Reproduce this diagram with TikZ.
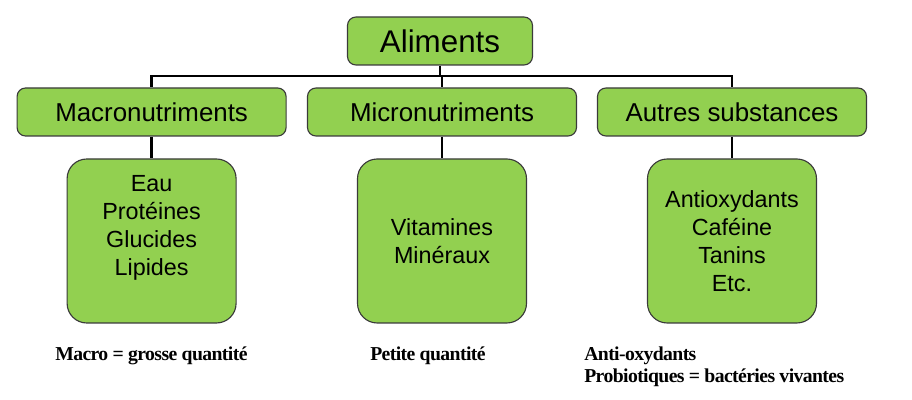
\documentclass[tikz,border=0pt]{standalone}
\usepackage{fontspec}
\setmainfont{Liberation Sans}
\newfontfamily\notefont{Liberation Serif}[LetterSpace=-3]
\usepackage{tikz}
\usetikzlibrary{positioning,calc}
\definecolor{FoodGreen}{HTML}{92D050}
\definecolor{FoodEdge}{HTML}{3A3A3A}

\begin{document}
\begin{tikzpicture}[
  box/.style={draw=FoodEdge, line width=0.8pt, fill=FoodGreen, rounded corners=6pt, align=center, inner sep=0pt},
  wire/.style={line width=1.8pt, black},
  note/.style={font=\notefont\bfseries\fontsize{14}{16}\selectfont, inner sep=0pt, anchor=base west}]
\useasboundingbox (0,0) rectangle (22.8,-10);
\node[box, minimum width=4.625cm, minimum height=1.2cm, font=\fontsize{22.3}{27}\selectfont] (alim) at (11.0,-1.025) {Aliments};
\coordinate (bar) at (0,-1.9);
\foreach \name/\label/\x in {macro/Macronutriments/3.79,micro/Micronutriments/11.05,autres/Autres substances/18.3}{
  \node[box, minimum width=6.725cm, minimum height=1.2cm, font=\fontsize{18.4}{22}\selectfont] (\name) at (\x,-2.8) {\label};
}
\foreach \name/\label/\x/\dy in {eau/{Eau\\Protéines\\Glucides\\Lipides}/3.79/0.32,vit/{Vitamines\\Minéraux}/11.05/0,anti/{Antioxydants\\Caféine\\Tanins\\Etc.}/18.3/0}{
  \node[box, rounded corners=14pt, minimum width=4.225cm, minimum height=4.1cm] (\name) at (\x,-6.025) {};
  \node[align=center, inner sep=0pt, font=\fontsize{16.6}{20}\selectfont] (\name-txt) at ([yshift=\dy cm]\name.center) {\label};
}
\draw[wire] (alim) -- (alim |- bar);
\draw[wire, line cap=rect] (macro |- bar) -- (autres |- bar);
\draw[wire] (macro |- bar) -- (macro.north);
\draw[wire] (micro |- bar) -- (micro.north);
\draw[wire] (autres |- bar) -- (autres.north);
\draw[wire] (macro) -- (eau);
\draw[wire] (micro) -- (vit);
\draw[wire] (autres) -- (anti);
% remarques sous les cases
\node[note] (grosse) at (1.375,-9.025) {Macro = grosse quantité};
\node[note] (petite) at (9.25,-9.025) {Petite quantité};
\node[note] (antiox) at (14.6,-9.025) {Anti-oxydants};
\node[note] (probio) at (14.6,-9.575) {Probiotiques = bactéries vivantes};
\end{tikzpicture}
\end{document}
